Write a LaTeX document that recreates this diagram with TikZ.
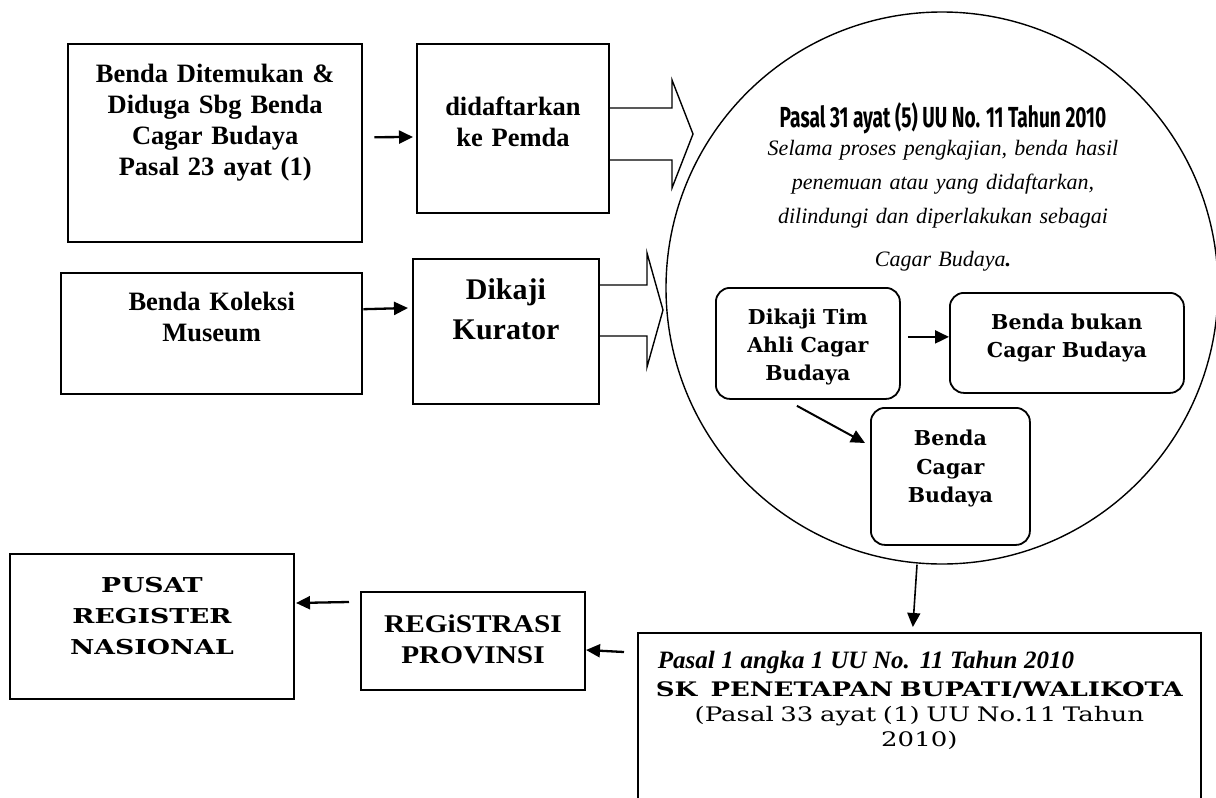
\documentclass[tikz,border=0pt]{standalone}
\usepackage{fontspec}
\setmainfont{Liberation Serif}
\newfontfamily\bookfont{DejaVu Serif}
\newfontfamily\bookwide[FakeStretch=1.3]{DejaVu Serif}
\newfontfamily\timeswide[FakeStretch=1.15]{Liberation Serif}
\newfontfamily\agency[FakeStretch=0.66]{Fira Sans}
\usetikzlibrary{arrows.meta}

\begin{document}
\begin{tikzpicture}[
    x=1pt, y=-1pt,
    box/.style    = {draw, line width=2pt, anchor=north west, inner sep=0pt,
                     align=center, font=\bfseries\fontsize{26.5}{31}\selectfont},
    rbox/.style   = {box, rounded corners=14pt, line width=1.8pt,
                     font=\bookfont\bfseries\fontsize{20.5}{28}\selectfont},
    arrow/.style  = {-{Triangle[length=14pt, width=13pt]}, line width=2.3pt},
    hollow/.style = {line width=1.4pt, line join=miter},
    rule/.style   = {anchor=base, align=center, inner sep=0pt}
]
\path[use as bounding box] (0,0) rectangle (1216,798);
\clip (0,0) rectangle (1216,798);

% ========= top rows =========
\node[box, line width=2.4pt, text width=294pt, text height=38pt, text depth=160pt]
    (find) at (67,43) {Benda Ditemukan \&\\Diduga Sbg Benda\\Cagar Budaya\\Pasal 23 ayat (1)};
\node[box, text width=192pt, text height=71pt, text depth=98pt]
    (pemda) at (416,43) {didaftarkan\\ke Pemda};
\node[box, line width=2.4pt, text width=301pt, text height=37pt, text depth=84pt]
    (koleksi) at (60,272) {Benda Koleksi\\Museum};
\node[box, text width=186pt, text height=40pt, text depth=105pt,
      font=\bfseries\fontsize{30}{40}\selectfont]
    (kurator) at (412,258) {Dikaji\\Kurator};

\draw[arrow] ([xshift=11pt,yshift=6pt]find.east) -- ([xshift=-3pt,yshift=-8.5pt]pemda.west);
\draw[arrow] ([yshift=24.5pt]koleksi.east) -- ([xshift=-4pt,yshift=23.5pt]kurator.west);

% hollow block arrows into the circle
\draw[hollow] (608,108) -- (672,108) -- (672,80) -- (693,134) -- (672,188) -- (672,160) -- (608,160);
\draw[hollow] (598,285) -- (647,285) -- (647,253) -- (663,310) -- (647,367) -- (647,336) -- (598,336);

% ========= circle =========
\node[circle, draw, line width=1.4pt, minimum size=552pt, inner sep=0pt] (lingkar) at (942,288) {};

\node[rule, font=\agency\bfseries\fontsize{29}{34}\selectfont] (pasal31) at (943,127)
    {Pasal 31 ayat (5) UU No. 11 Tahun 2010};
\node[rule, text width=420pt, font=\itshape\fontsize{22}{34}\selectfont] (selama) at (943,155)
    {Selama proses pengkajian, benda hasil\\penemuan atau yang didaftarkan,\\dilindungi dan diperlakukan sebagai\\[9pt]Cagar Budaya\textbf{.}};

\node[rbox, text width=184pt, text height=37pt, text depth=74pt]
    (timahli) at (715,287) {Dikaji Tim\\Ahli Cagar\\Budaya};
\node[rbox, text width=234pt, text height=37pt, text depth=63pt]
    (bukan) at (949,292) {Benda bukan\\Cagar Budaya};
\node[rbox, text width=159pt, text height=38pt, text depth=99pt,
      font=\bookfont\bfseries\fontsize{20.5}{28.5}\selectfont]
    (bcb) at (870,407) {Benda\\Cagar\\Budaya};

\draw[arrow, line width=2.2pt] ([xshift=7pt,yshift=6.5pt]timahli.east) -- ([yshift=6pt]bukan.west);
\draw[arrow, line width=2pt] ([xshift=-11pt,yshift=-6pt]timahli.south) -- ([xshift=-5pt,yshift=-36pt]bcb.north west);

% ========= bottom row =========
\node[box, line width=1.7pt, text width=563pt, text height=36pt, text depth=300pt,
      font=\bookwide\fontsize{20}{25}\selectfont]
    (sk) at (637,632)
    {\makebox[563pt][l]{\hspace*{20pt}\rmfamily\bfseries\itshape\fontsize{25}{28}\selectfont Pasal 1 angka 1 UU No. 11 Tahun 2010}\\[3pt]
     {\bfseries SK\ \ PENETAPAN BUPATI/WALIKOTA}\\(Pasal 33 ayat (1) UU No.11 Tahun\\2010)};
\node[box, text width=224pt, text height=40pt, text depth=58pt,
      font=\timeswide\bfseries\fontsize{25.5}{31}\selectfont]
    (provinsi) at (360,591) {REGiSTRASI\\PROVINSI};
\node[box, text width=284pt, text height=38pt, text depth=107pt,
      font=\bookwide\bfseries\fontsize{20.5}{31}\selectfont]
    (pusat) at (9,553) {PUSAT\\REGISTER\\NASIONAL};

\draw[arrow, line width=1.6pt] ([xshift=-25pt]lingkar.south) -- ([xshift=-6.5pt,yshift=5pt]sk.north);
\draw[arrow] ([xshift=-13pt,yshift=-20pt]sk.north west) -- ([yshift=-9pt]provinsi.east);
\draw[arrow] ([xshift=-11pt,yshift=39pt]provinsi.west) -- ([xshift=1pt,yshift=23.5pt]pusat.east);

\end{tikzpicture}
\end{document}
